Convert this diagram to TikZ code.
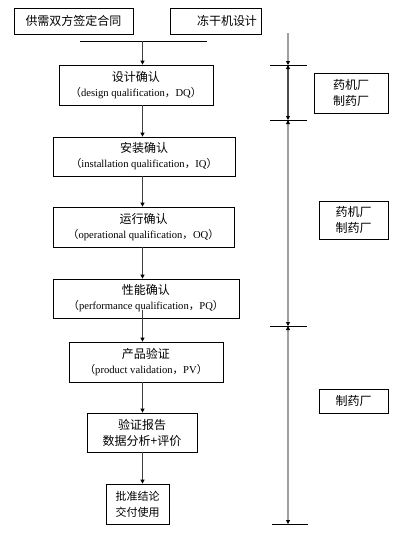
\documentclass[tikz,border=0pt]{standalone}
\usepackage{fontspec}
\setmainfont{Liberation Serif}
\newfontfamily\cjk{Noto Sans CJK SC}
\usetikzlibrary{arrows.meta}
\newcommand{\zh}[1]{{\cjk #1}}
\newcommand{\hd}[1]{{\cjk\fontsize{12}{15}\selectfont #1}}

\begin{document}
\begin{tikzpicture}[x=1pt, y=-1pt, > = {Triangle[length=4pt,width=4pt,color=black]},
	box/.style = {draw, line width=0.8pt, inner sep=0pt, align=center, font=\fontsize{10.6}{15}\selectfont},
	tag/.style = {draw, line width=0.8pt, inner sep=0pt, align=center, font=\cjk\fontsize{12}{16}\selectfont},
	flow/.style = {->, line width=1pt, black!75},
	axis/.style = {<->, line width=1.6pt, gray!75},
	tick/.style = {line width=0.7pt}]
	\useasboundingbox (0,0) rectangle (401,550);

	% top boxes
	\node[tag, minimum width=119pt, minimum height=26pt] (contract) at (73.5,21) {供需双方签定合同};
	\node[tag, minimum width=91pt, minimum height=26pt, text width=83pt, align=right] (design) at (215.5,21) {冻干机设计};
	\coordinate (jl) at (80,41);
	\coordinate (jr) at (207,41);
	\coordinate (sx) at (142.5,0); % flow line
	\draw[line width=0.8pt] (jl) -- (jr);

	% qualification steps
	\node[box, minimum width=154pt, minimum height=40pt] (dq) at (136,85) {\hd{设计确认}\\\zh{（}design qualification\zh{，}DQ\zh{）}};
	\node[box, minimum width=182pt, minimum height=39pt] (iq) at (144,156.5) {\hd{安装确认}\\\zh{（}installation qualification\zh{，}IQ\zh{）}};
	\node[box, minimum width=181pt, minimum height=40pt] (oq) at (143.5,227) {\hd{运行确认}\\\zh{（}operational qualification\zh{，}OQ\zh{）}};
	\node[box, minimum width=186pt, minimum height=39pt] (pq) at (146,298.5) {\hd{性能确认}\\\zh{（}performance qualification\zh{，}PQ\zh{）}};
	\node[box, minimum width=154pt, minimum height=40pt] (pv) at (146,362) {\hd{产品验证}\\\zh{（}product validation\zh{，}PV\zh{）}};
	\node[tag, minimum width=110pt, minimum height=39pt] (rep) at (142,432.5) {验证报告\\数据分析+评价};
	\node[tag, minimum width=63pt, minimum height=40pt, align=left, font=\cjk\fontsize{11}{16}\selectfont] (end) at (137.5,504) {批准结论\\交付使用};

	\draw[flow] (jl -| sx) -- (dq.north -| sx);
	\draw[flow] (dq.south -| sx) -- (iq.north -| sx);
	\draw[flow] (iq.south -| sx) -- (oq.north -| sx);
	\draw[flow] (oq.south -| sx) -- (pq.north -| sx);
	\draw[flow] ([yshift=8pt]pq.south -| sx) -- (pv.north -| sx);
	\draw[flow] (pv.south -| sx) -- (rep.north -| sx);
	\draw[flow] (rep.south -| sx) -- (end.north -| sx);

	% right scale
	\coordinate (a0) at (288,33);
	\coordinate (a1) at (288,65);
	\coordinate (a2) at (288,120);
	\coordinate (a3) at (288,326);
	\coordinate (a4) at (288,524);
	\draw[axis, -> ] (a0) -- (a1);
	\draw[axis, black!70] (a1) -- (a2);
	\draw[axis] (a2) -- (a3);
	\draw[axis] (a3) -- (a4);
	\draw[tick] ([xshift=-18pt]a1) -- ([xshift=19pt]a1);
	\draw[tick] ([xshift=-18pt]a2) -- ([xshift=19pt]a2);
	\draw[tick] ([xshift=-18pt]a3) -- ([xshift=19pt]a3);
	\draw[tick] ([xshift=-16pt]a4) -- ([xshift=20pt]a4);

	\node[tag, minimum width=74pt, minimum height=40pt] (f1) at (351,93) {药机厂\\制药厂};
	\node[tag, minimum width=69pt, minimum height=38pt] (f2) at (353.5,220) {药机厂\\制药厂};
	\node[tag, minimum width=69pt, minimum height=24pt] (f3) at (353.5,401) {制药厂};
\end{tikzpicture}
\end{document}
